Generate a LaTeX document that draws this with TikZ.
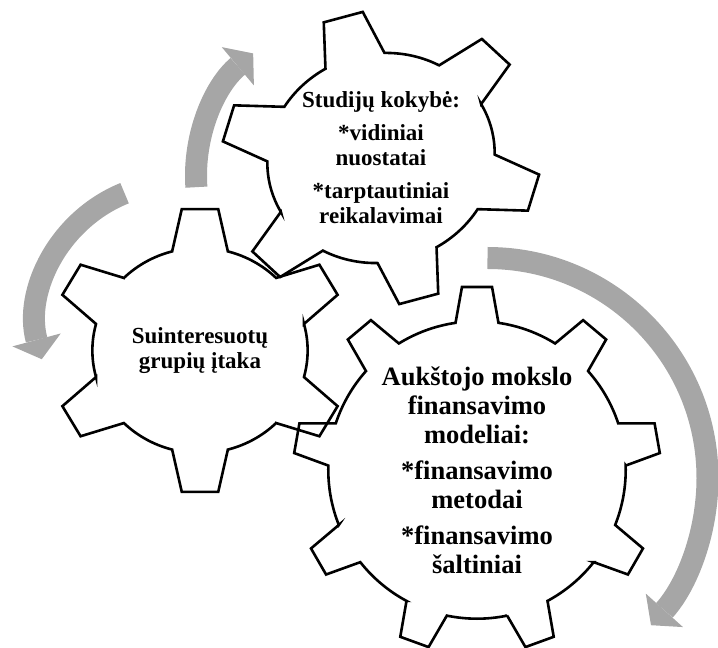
\documentclass[tikz,border=0pt]{standalone}
\usepackage{fontspec}
\setmainfont{Liberation Serif}
\usetikzlibrary{arrows.meta}
\definecolor{arrowgray}{HTML}{A6A6A6}
\tikzset{
  gearline/.style={draw=black, line width=2.6pt, line join=miter},
  flowarrow/.style={draw=arrowgray, line width=22pt, -{Triangle[length=20pt, width=50pt, line width=0pt]}},
  gearlabel/.style={align=center, font=\bfseries\fontsize{23}{25}\selectfont}
}
% teeth, root radius, base half angle, tip half angle
\newcommand{\gearpath}[4]{({90-#3}:#2)
  \foreach \k in {1,...,#1}{
    -- ({90+(\k-1)*360/#1-#3}:#2) -- ({90+(\k-1)*360/#1-#4}:1)
    -- ({90+(\k-1)*360/#1+#4}:1) -- ({90+(\k-1)*360/#1+#3}:#2)
    arc[start angle={90+(\k-1)*360/#1+#3}, end angle={90+\k*360/#1-#3}, radius=#2]
  } -- cycle}

\begin{document}
\begin{tikzpicture}[x=1pt, y=1pt]
    \useasboundingbox (0,0) rectangle (718,648);
    % centres of the circular arrows
    \coordinate (hubA) at (356,472);
    \coordinate (hubB) at (177,325);
    \coordinate (hubC) at (487.5,170);
    \draw[flowarrow] ([shift={(184:160)}]hubA) arc[start angle=184, end angle=130, radius=160];
    \draw[flowarrow] ([shift={(112:140)}]hubB) arc[start angle=112, end angle=195, radius=140];
    \draw[flowarrow] ([shift={(90:220)}]hubC) arc[start angle=90, end angle=-42, radius=220];
    % gears
    \draw[gearline, shift={(200,297.5)}, xscale=149.5, yscale=142.5] \gearpath{6}{0.72}{15}{7};
    \draw[gearline, shift={(381,490)}, rotate=15, xscale=161, yscale=147] \gearpath{6}{0.71}{15.5}{7.2};
    \draw[gearline, shift={(477,178)}, scale=183.6] \gearpath{9}{0.81}{8.3}{4.7};
    % labels
    \node[gearlabel] (influence) at (200,297.5) {Suinteresuotų\\grupių įtaka};
    \node[gearlabel] (quality) at (381,490) {Studijų kokybė:\\[8pt]*vidiniai\\nuostatai\\[8pt]*tarptautiniai\\reikalavimai};
    \node[gearlabel, font=\bfseries\fontsize{26.5}{29}\selectfont] (funding) at (477,178) {Aukštojo mokslo\\finansavimo\\modeliai:\\[7pt]*finansavimo\\metodai\\[7pt]*finansavimo\\šaltiniai};
\end{tikzpicture}
\end{document}
